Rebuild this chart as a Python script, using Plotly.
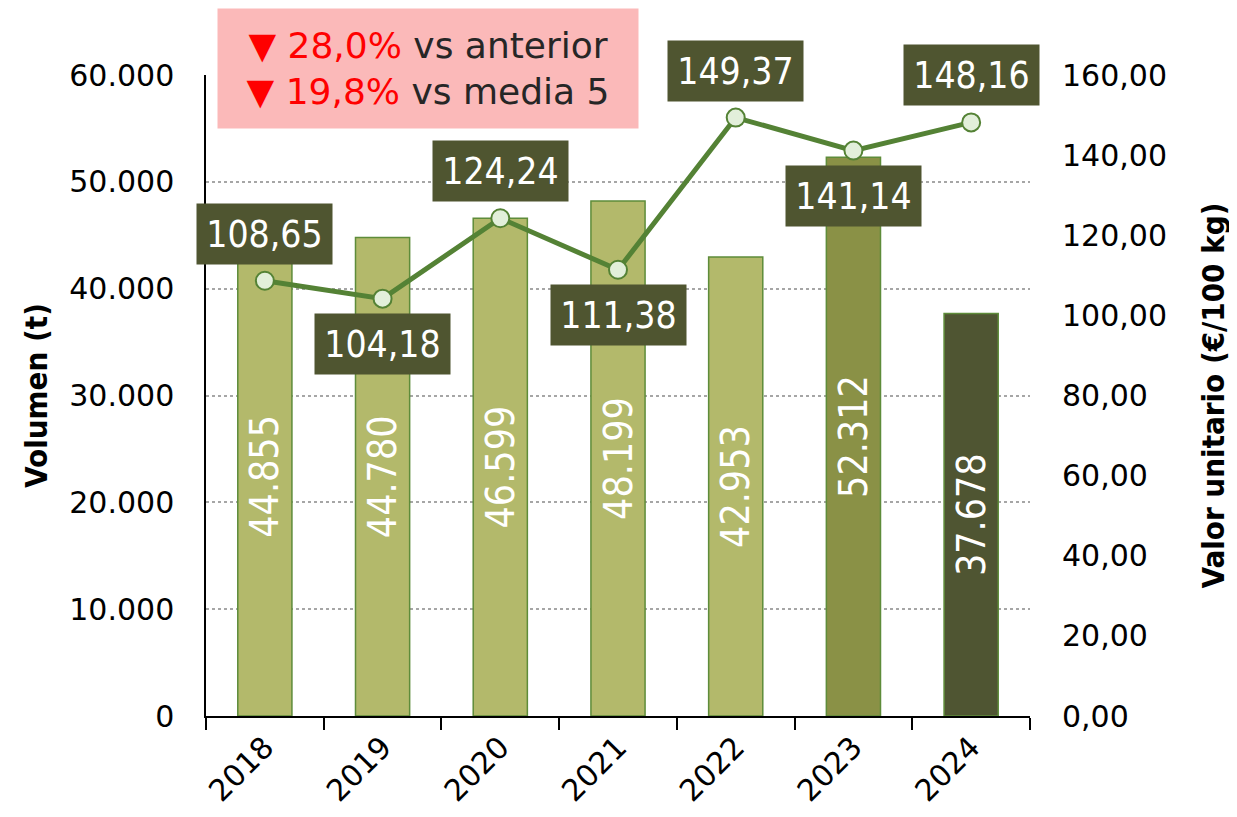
import plotly.graph_objects as go

years = ["2018", "2019", "2020", "2021", "2022", "2023", "2024"]
volumes = [44855, 44780, 46599, 48199, 42953, 52312, 37678]
prices = [108.65, 104.18, 124.24, 111.38, 149.37, 141.14, 148.16]
price_labels = ["108,65", "104,18", "124,24", "111,38", "149,37", "141,14", "148,16"]
label_side = ["above", "below", "above", "below", "above", "below", "above"]
bar_colors = ["#B3B96B", "#B3B96B", "#B3B96B", "#B3B96B", "#B3B96B", "#8A9146", "#4F5532"]
y_ticks = [0, 10000, 20000, 30000, 40000, 50000, 60000]
y2_ticks = [0, 20, 40, 60, 80, 100, 120, 140, 160]

TICKFONT = dict(family="DejaVu Sans", size=30, color="#000000")
NARROW = "Liberation Sans Narrow, Arial Narrow, DejaVu Sans Condensed, sans-serif"

fig = go.Figure()
fig.add_trace(go.Bar(
    x=years, y=volumes, marker=dict(color=bar_colors, line=dict(color="#5E8C3A", width=1.5)),
    texttemplate="%{y:,.0f}", textposition="inside", insidetextanchor="middle",
    textangle=-90, constraintext="none", cliponaxis=False,
    textfont=dict(family=NARROW, size=39, color="white"),
    width=0.46, showlegend=False, yaxis="y"))
fig.add_trace(go.Scatter(
    x=years, y=prices, mode="lines+markers", yaxis="y2",
    line=dict(color="#548235", width=5),
    marker=dict(size=18, color="#E2EFDA", line=dict(color="#548235", width=2)),
    showlegend=False))

for i, (p, lab, side) in enumerate(zip(prices, price_labels, label_side)):
    fig.add_annotation(
        x=i, y=p, xref="x", yref="y2", text=lab, showarrow=False,
        yshift=47 if side == "above" else -45,
        font=dict(family=NARROW, size=37, color="white"),
        bgcolor="#4F5530", borderpad=2, width=131, height=56)

fig.add_annotation(
    xref="paper", yref="paper", x=(209 - 198) / 824, y=(708 - 0) / 641,
    xanchor="left", yanchor="top", showarrow=False, align="center",
    width=420, height=119, bgcolor="#FBB9B9", borderpad=0,
    text=("<span style='color:#FF0000'>▼ 28,0%</span> vs anterior<br>"
          "<span style='color:#FF0000'>▼ 19,8%</span> vs media 5"),
    font=dict(family="DejaVu Sans", size=36, color="#262626"))

fig.update_layout(
    width=1237, height=817, separators=",.",
    margin=dict(l=198, r=215, t=67, b=109, autoexpand=False),
    plot_bgcolor="white", paper_bgcolor="white",
    xaxis=dict(type="category", range=[-0.5, 6.5], tickson="boundaries", ticks="outside",
               ticklen=12, tickcolor="black", tickwidth=1.5, showline=True,
               linecolor="black", linewidth=1.5, tickangle=-45, tickfont=TICKFONT,
               showgrid=False),
    yaxis=dict(range=[0, 60000], tickvals=y_ticks, tickformat=",.0f",
               showline=True, linecolor="black", linewidth=1.5, ticks="",
               showgrid=True, gridcolor="#A6A6A6", griddash="dot", gridwidth=1.5,
               tickfont=TICKFONT, zeroline=False, ticklabelstandoff=24,
               title=dict(text="<b>Volumen (t)</b>",
                          font=dict(family=NARROW, size=31, color="black"),
                          standoff=12)),
    yaxis2=dict(range=[0, 160], tickvals=y2_ticks, tickformat=",.2f", overlaying="y",
                side="right", showgrid=False, showline=False, zeroline=False,
                tickfont=TICKFONT, ticklabelstandoff=31,
                title=dict(text="<b>Valor unitario (€/100 kg)</b>",
                           font=dict(family=NARROW, size=31, color="black"),
                           standoff=36)),
)

fig.write_html("out.html")
